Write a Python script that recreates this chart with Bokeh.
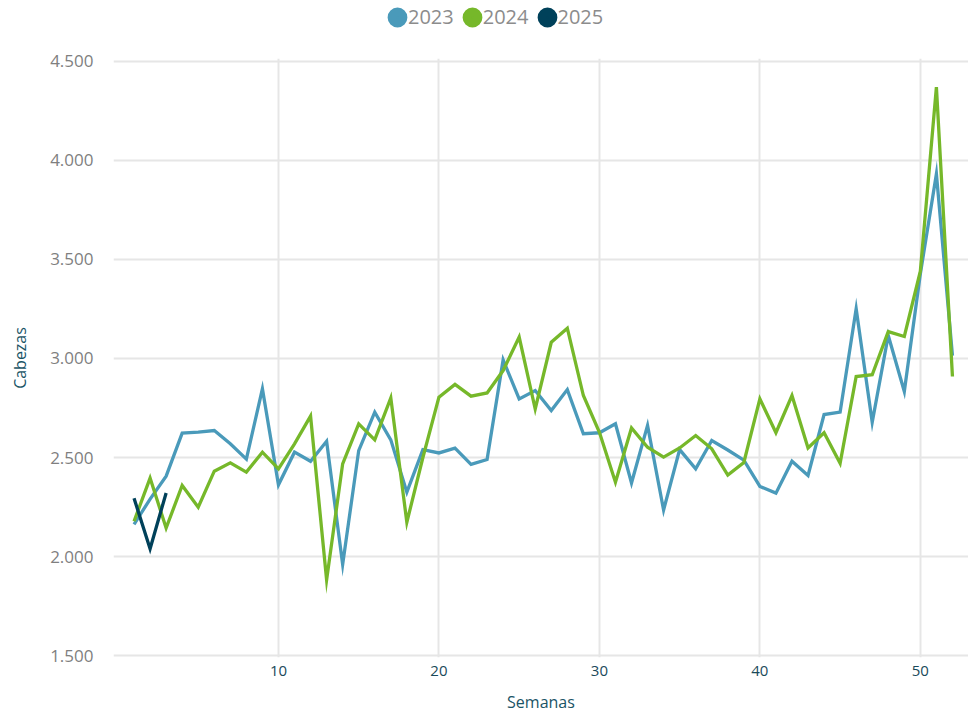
from bokeh.plotting import figure
from bokeh.layouts import column
from bokeh.models import (Range1d, Legend, LegendItem, FixedTicker, CustomJSTickFormatter,
                          ColumnDataSource)
from bokeh.embed import file_html
from bokeh.resources import INLINE

weeks_2023 = list(range(1, 53))
values_2023 = [2162, 2290, 2406, 2623, 2628, 2636, 2569, 2492, 2847, 2362,
               2527, 2481, 2582, 1960, 2535, 2729, 2589, 2325, 2540, 2523,
               2547, 2465, 2490, 2993, 2796, 2838, 2737, 2843, 2620, 2625,
               2670, 2371, 2662, 2235, 2540, 2443, 2586, 2538, 2487, 2354,
               2320, 2481, 2409, 2717, 2729, 3251, 2678, 3116, 2833, 3428,
               3932, 3015]

weeks_2024 = list(range(1, 53))
values_2024 = [2178, 2396, 2144, 2359, 2249, 2431, 2473, 2426, 2527, 2443,
               2569, 2709, 1882, 2468, 2670, 2589, 2801, 2173, 2500, 2805,
               2869, 2810, 2826, 2939, 3108, 2745, 3082, 3153, 2813, 2627,
               2375, 2649, 2552, 2502, 2548, 2611, 2544, 2411, 2475, 2796,
               2625, 2813, 2548, 2625, 2471, 2909, 2918, 3136, 3111, 3441,
               4370, 2909]

weeks_2025 = [1, 2, 3]
values_2025 = [2294, 2039, 2321]

series_names = ["2023", "2024", "2025"]
series_colors = ["#4a9aba", "#76b82a", "#00415a"]

x_ticks = [10, 20, 30, 40, 50]
y_ticks = [1500, 2000, 2500, 3000, 3500, 4000, 4500]

# ---- legend strip (thick outline makes a full-size dot in a compact box) --
lg = figure(output_backend="svg", toolbar_location=None,
            x_range=Range1d(0, 1), y_range=Range1d(0, 1),
            frame_width=968, frame_height=48,
            min_border_left=0, min_border_right=0, min_border_top=0, min_border_bottom=0)
lg.axis.visible = False
lg.grid.visible = False
lg.outline_line_color = None
lg_renderers = []
for c in series_colors:
    r = lg.scatter([float("nan")], [float("nan")], marker="circle", size=10,
                   fill_color=c, line_color=c, line_width=11)
    lg_renderers.append(r)
legend = Legend(items=[LegendItem(label=n, renderers=[r]) for n, r in zip(series_names, lg_renderers)],
                orientation="horizontal", location=(386, 18),
                glyph_width=22, glyph_height=22, label_standoff=0, spacing=7,
                padding=0, margin=0, border_line_color=None, background_fill_alpha=0,
                label_text_font="Open Sans", label_text_font_size="20px",
                label_text_color="#8c8c8c")
lg.add_layout(legend)

# ---- main chart ----------------------------------------------------------
p = figure(output_backend="svg", toolbar_location=None,
           x_range=Range1d(-0.28, 53.0), y_range=Range1d(1490, 4515),
           min_border_left=113, min_border_right=0, min_border_top=10, min_border_bottom=50,
           frame_width=855, frame_height=599)
p.outline_line_color = None
p.background_fill_color = "white"
p.border_fill_color = "white"

for xs, ys, c in zip([weeks_2023, weeks_2024, weeks_2025],
                     [values_2023, values_2024, values_2025], series_colors):
    src = ColumnDataSource(dict(x=xs, y=ys))
    p.line("x", "y", source=src, line_color=c, line_width=3.3, line_join="miter")

grid_color = "#e6e6e6"
p.xgrid.ticker = FixedTicker(ticks=x_ticks)
p.ygrid.ticker = FixedTicker(ticks=y_ticks)
p.xgrid.grid_line_color = grid_color
p.ygrid.grid_line_color = grid_color
p.xgrid.grid_line_width = 2
p.ygrid.grid_line_width = 2

p.xaxis.ticker = FixedTicker(ticks=x_ticks)
p.yaxis.ticker = FixedTicker(ticks=y_ticks)
p.yaxis.formatter = CustomJSTickFormatter(code="""
return Math.round(tick).toString().replace(/\\B(?=(\\d{3})+(?!\\d))/g, ".");
""")
for ax in (p.xaxis, p.yaxis):
    ax.axis_line_color = None
    ax.major_tick_line_color = None
    ax.minor_tick_line_color = None
    ax.major_tick_out = 0
    ax.major_tick_in = 0
    ax.minor_tick_out = 0
    ax.axis_label_text_font = "Open Sans"
    ax.axis_label_text_font_style = "normal"
    ax.axis_label_text_font_size = "16px"
    ax.axis_label_text_color = "#1a5466"
    ax.major_label_text_font = "Open Sans"

p.xaxis.axis_label = "Semanas"
p.yaxis.axis_label = "Cabezas"
p.xaxis.major_label_text_font_size = "15px"
p.xaxis.major_label_text_color = "#1a4a5a"
p.xaxis.major_label_standoff = 8
p.xaxis.axis_label_standoff = 12
p.yaxis.major_label_text_font_size = "17px"
p.yaxis.major_label_text_color = "#7f7f7f"
p.yaxis.major_label_standoff = 20
p.yaxis.axis_label_standoff = 16

layout = column(lg, p, spacing=0)
open("out.html", "w").write(file_html(layout, INLINE))
